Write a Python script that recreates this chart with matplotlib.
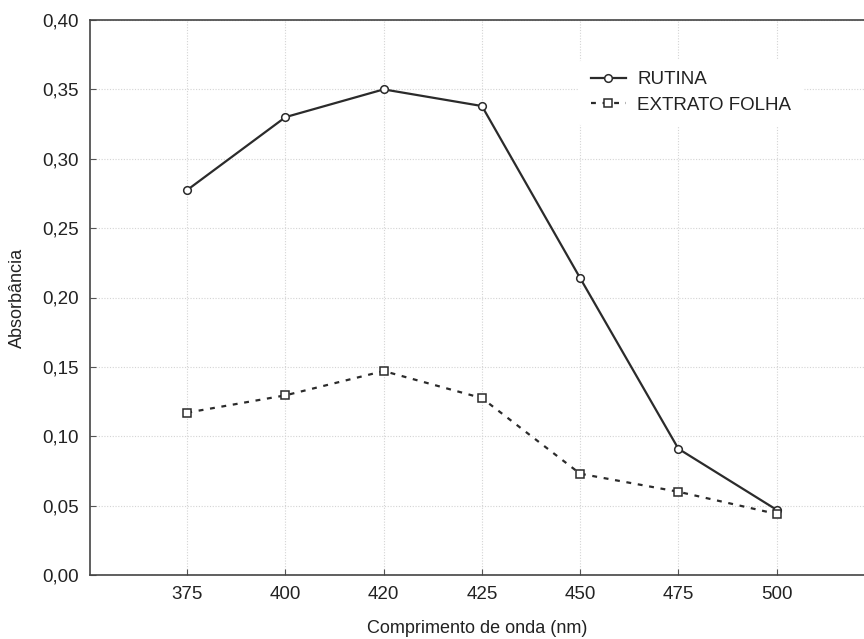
import matplotlib
matplotlib.use("Agg")
import matplotlib.pyplot as plt
from matplotlib.ticker import FuncFormatter

# wavelengths (nm), plotted as evenly spaced categories
wavelengths = ["375", "400", "420", "425", "450", "475", "500"]
rutina = [0.2775, 0.330, 0.350, 0.338, 0.214, 0.091, 0.047]
extrato_folha = [0.117, 0.1295, 0.147, 0.1275, 0.073, 0.060, 0.044]

plt.rcParams['font.family'] = ['Liberation Sans', 'DejaVu Sans']

fig = plt.figure(figsize=(8.64, 6.39), dpi=100)
ax = fig.add_axes([90 / 864, 1 - 575 / 639, 774 / 864, 555 / 639])

x = list(range(len(wavelengths)))
line_color = "#2b2b2b"
ax.plot(x, rutina, color=line_color, linewidth=1.6, linestyle="-",
        marker="o", markersize=5.5, markerfacecolor="white",
        markeredgecolor=line_color, markeredgewidth=1.1, label="RUTINA")
ax.plot(x, extrato_folha, color=line_color, linewidth=1.6, linestyle=(0, (2.2, 3.0)),
        marker="s", markersize=5.5, markerfacecolor="white",
        markeredgecolor=line_color, markeredgewidth=1.1, label="EXTRATO FOLHA")

ax.set_xlim(-0.99, 6.89)
ax.set_ylim(0, 0.40)
ax.set_xticks(x)
ax.set_xticklabels(wavelengths)
ax.set_yticks([i * 0.05 for i in range(9)])
ax.yaxis.set_major_formatter(FuncFormatter(lambda v, p: f"{v:.2f}".replace(".", ",")))

ax.grid(True, color="#d4d4d4", linestyle=(0, (1, 1.5)), linewidth=0.8)
ax.set_axisbelow(True)

for side in ("left", "bottom", "top"):
    ax.spines[side].set_color("#444444")
    ax.spines[side].set_linewidth(1.2)
ax.spines["right"].set_visible(False)

ax.tick_params(direction="in", length=4, color="#555555", labelsize=13.5,
               labelcolor="#222222", pad=8)

ax.set_xlabel("Comprimento de onda (nm)", fontsize=13, color="#222222", labelpad=12)
ax.set_ylabel("Absorbância", fontsize=13, color="#222222", labelpad=12)

leg = ax.legend(loc="upper left", bbox_to_anchor=(0.62, 0.945), frameon=True,
                fontsize=13.5, handlelength=1.9, handletextpad=0.6,
                borderpad=0.6, labelspacing=0.45)
leg.get_frame().set_edgecolor("white")
leg.get_frame().set_facecolor("white")
leg.get_frame().set_alpha(1.0)
for t in leg.get_texts():
    t.set_color("#222222")

fig.savefig("out.png", dpi=100)
